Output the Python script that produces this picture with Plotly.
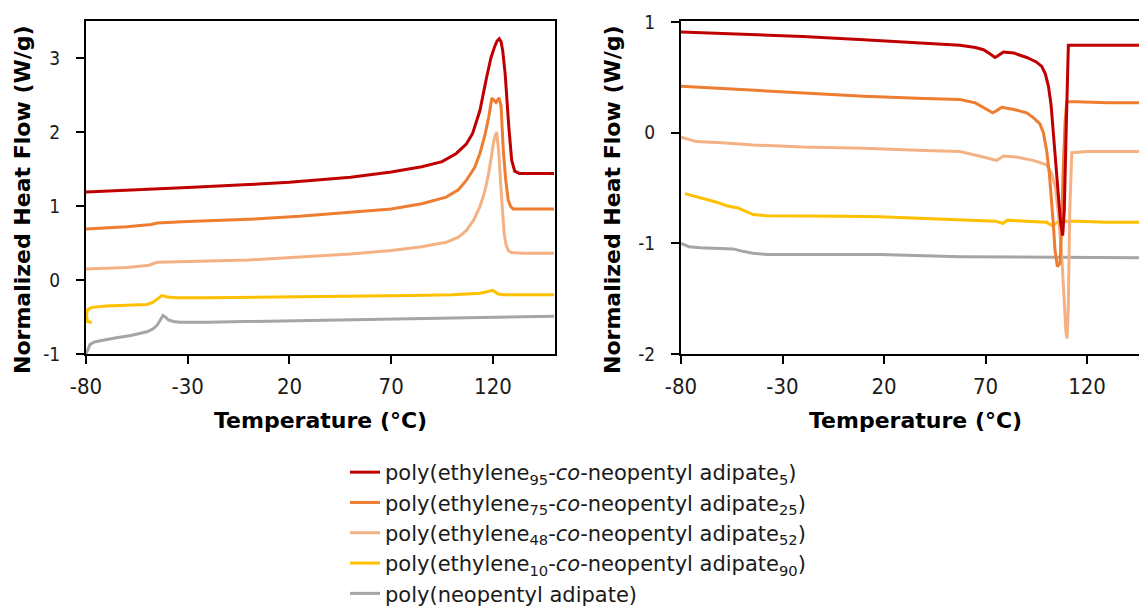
import plotly.graph_objects as go

# ---------------- data ----------------
series_names = [
    "poly(ethylene<sub>95</sub>-<i>co</i>-neopentyl adipate<sub>5</sub>)",
    "poly(ethylene<sub>75</sub>-<i>co</i>-neopentyl adipate<sub>25</sub>)",
    "poly(ethylene<sub>48</sub>-<i>co</i>-neopentyl adipate<sub>52</sub>)",
    "poly(ethylene<sub>10</sub>-<i>co</i>-neopentyl adipate<sub>90</sub>)",
    "poly(neopentyl adipate)",
]
series_colors = ["#C00000", "#ED7D31", "#F4B183", "#FFC000", "#A5A5A5"]

# Left panel (heating)
L_red_x = [-80, -50, -30, 0, 20, 50, 70, 85, 95, 102, 107, 110, 113.6, 116.9, 119, 120.8, 122, 123.1, 124, 124.8, 126, 127.8, 129.2, 130.7, 133, 150]
L_red_y = [1.19, 1.22, 1.25, 1.29, 1.32, 1.39, 1.46, 1.53, 1.60, 1.71, 1.84, 1.98, 2.29, 2.74, 3.0, 3.15, 3.23, 3.26, 3.22, 3.1, 2.79, 2.07, 1.62, 1.47, 1.44, 1.44]

L_orange_x = [-80, -60, -48, -45, -30, 0, 25, 50, 70, 85, 97, 103, 107, 111, 113.6, 116, 117.9, 119.5, 121.5, 123, 124, 125.1, 126.3, 127.5, 128.8, 130, 133, 150]
L_orange_y = [0.69, 0.72, 0.75, 0.77, 0.79, 0.82, 0.86, 0.91, 0.96, 1.03, 1.12, 1.22, 1.35, 1.52, 1.71, 1.95, 2.2, 2.46, 2.40, 2.46, 2.35, 1.75, 1.35, 1.08, 0.99, 0.96, 0.96, 0.96]

L_peach_x = [-80, -60, -49, -45, -30, 0, 25, 50, 70, 85, 97, 103, 107, 110.5, 113.6, 116, 117.9, 119.5, 120.5, 121.8, 122.8, 123.8, 124.6, 125.5, 126.5, 127.5, 129, 135, 150]
L_peach_y = [0.15, 0.17, 0.20, 0.24, 0.25, 0.27, 0.31, 0.35, 0.40, 0.45, 0.51, 0.58, 0.67, 0.81, 0.99, 1.2, 1.44, 1.7, 1.89, 2.0, 1.75, 1.30, 0.95, 0.63, 0.47, 0.40, 0.37, 0.36, 0.36]

L_yellow_x = [-77.2, -79.3, -79.8, -79.2, -77, -70, -60, -50, -47, -45, -42.7, -40, -36, -20, 0, 25, 50, 80, 100, 113.6, 117, 119.7, 121, 122.5, 125, 150]
L_yellow_y = [-0.575, -0.56, -0.47, -0.40, -0.37, -0.35, -0.34, -0.33, -0.30, -0.26, -0.21, -0.23, -0.24, -0.24, -0.235, -0.23, -0.22, -0.21, -0.20, -0.18, -0.16, -0.14, -0.16, -0.19, -0.20, -0.20]

L_gray_x = [-80, -79, -78, -76, -73, -65, -58, -50, -47, -45, -43.5, -42.2, -41, -39.5, -37, -33.8, -20, 0, 25, 50, 80, 110, 130, 150]
L_gray_y = [-1.0, -0.93, -0.87, -0.84, -0.82, -0.78, -0.75, -0.70, -0.66, -0.61, -0.53, -0.48, -0.50, -0.54, -0.56, -0.57, -0.57, -0.56, -0.55, -0.54, -0.53, -0.51, -0.50, -0.49]

# Right panel (cooling)
R_red_x = [-80, -50, -20, 10, 40, 57.4, 65, 69, 72.5, 74.7, 76.5, 78.8, 84, 90.3, 95, 97.7, 99.5, 101, 102.3, 103.4, 104.7, 105.9, 107, 108, 108.8, 109.7, 110.3, 110.8, 115, 130, 146]
R_red_y = [0.91, 0.89, 0.87, 0.84, 0.81, 0.79, 0.77, 0.75, 0.71, 0.68, 0.70, 0.73, 0.72, 0.68, 0.64, 0.60, 0.53, 0.42, 0.25, 0.0, -0.3, -0.61, -0.82, -0.93, -0.7, 0.0, 0.5, 0.79, 0.79, 0.79, 0.79]

R_orange_x = [-80, -50, -20, 10, 40, 57.4, 65, 68.9, 71.5, 73.5, 75.5, 78, 84, 90.3, 94, 96.8, 98.5, 100.1, 101.5, 102.6, 103.5, 104.2, 105.4, 106.7, 107.5, 108.3, 109.2, 110, 115, 130, 146]
R_orange_y = [0.42, 0.39, 0.36, 0.33, 0.31, 0.30, 0.27, 0.23, 0.20, 0.18, 0.20, 0.23, 0.21, 0.18, 0.13, 0.08, 0.0, -0.16, -0.38, -0.61, -0.85, -1.06, -1.21, -1.18, -0.85, -0.31, 0.1, 0.28, 0.28, 0.27, 0.27]

R_peach_x = [-80, -76, -72.3, -60, -44.5, -20, 10, 40, 57.4, 68.9, 73, 75.5, 78.8, 85, 93.4, 100.1, 102.6, 104.5, 106, 107.5, 108.7, 109.6, 110.2, 110.8, 111.5, 112.5, 120, 146]
R_peach_y = [-0.04, -0.06, -0.08, -0.09, -0.11, -0.13, -0.14, -0.16, -0.17, -0.22, -0.24, -0.25, -0.21, -0.22, -0.25, -0.29, -0.37, -0.5, -0.75, -1.1, -1.5, -1.8, -1.86, -1.55, -0.7, -0.18, -0.17, -0.17]

R_yellow_x = [-78, -70, -62, -57.5, -52, -49.5, -46, -44.5, -38, -30.6, 0, 18, 40, 60, 68.9, 75, 77, 78.5, 80, 81, 90, 100, 102, 103, 104.5, 106, 115, 130, 146]
R_yellow_y = [-0.55, -0.59, -0.63, -0.66, -0.68, -0.70, -0.73, -0.74, -0.75, -0.75, -0.755, -0.76, -0.775, -0.79, -0.80, -0.80, -0.81, -0.82, -0.80, -0.79, -0.80, -0.81, -0.83, -0.84, -0.82, -0.80, -0.80, -0.81, -0.81]

R_gray_x = [-80, -76, -70.6, -60, -54.4, -50, -44.5, -38, -20, 18, 57.4, 100, 146]
R_gray_y = [-1.00, -1.03, -1.04, -1.045, -1.05, -1.07, -1.09, -1.10, -1.10, -1.10, -1.12, -1.125, -1.13]

x_tick_vals = [-80, -30, 20, 70, 120]
x_tick_text = ["-80", "-30", "20", "70", "120"]
left_y_ticks = [-1, 0, 1, 2, 3]
left_y_text = ["-1", "0", "1", "2", "3"]
right_y_ticks = [-2, -1, 0, 1]
right_y_text = ["-2", "-1", "0", "1"]
x_title = "Temperature (°C)"
y_title = "Normalized Heat Flow (W/g)"

left_series = [(L_red_x, L_red_y), (L_orange_x, L_orange_y), (L_peach_x, L_peach_y),
               (L_yellow_x, L_yellow_y), (L_gray_x, L_gray_y)]
right_series = [(R_red_x, R_red_y), (R_orange_x, R_orange_y), (R_peach_x, R_peach_y),
                (R_yellow_x, R_yellow_y), (R_gray_x, R_gray_y)]

# ---------------- figure ----------------
W, H = 1139, 615
fig = go.Figure()

order = [4, 3, 2, 1, 0]
for i in order:
    x, y = left_series[i]
    fig.add_trace(go.Scatter(x=x, y=y, mode="lines", name=series_names[i],
                             line=dict(color=series_colors[i], width=3),
                             legendgroup=str(i), legendrank=i + 1,
                             showlegend=True, xaxis="x", yaxis="y"))
for i in order:
    x, y = right_series[i]
    fig.add_trace(go.Scatter(x=x, y=y, mode="lines", name=series_names[i],
                             line=dict(color=series_colors[i], width=3),
                             legendgroup=str(i), showlegend=False,
                             xaxis="x2", yaxis="y2"))

cond = "DejaVu Sans Condensed, DejaVu Sans"
x_tick_font = dict(family=cond, size=22, color="#1a1a1a")
y_tick_font = dict(family=cond, size=19, color="#1a1a1a")
axis_common = dict(showline=True, linecolor="#000000", linewidth=2, ticks="outside",
                   ticklen=8, tickwidth=1.5, tickcolor="#000000", showgrid=False,
                   zeroline=False, automargin=False)

fig.update_layout(
    template="none",
    width=W, height=H,
    margin=dict(l=0, r=0, t=0, b=0, pad=0),
    paper_bgcolor="white", plot_bgcolor="white",
    xaxis=dict(domain=[86 / W, 555 / W], range=[-80, 150.5], tickvals=x_tick_vals,
               ticktext=x_tick_text, mirror=True, anchor="y", ticklabelstandoff=4,
               tickfont=x_tick_font, **axis_common),
    yaxis=dict(domain=[1 - 354 / H, 1 - 21 / H], range=[-1, 3.5], tickvals=left_y_ticks,
               ticktext=left_y_text, mirror=True, anchor="x", ticklabelstandoff=12,
               tickfont=y_tick_font, **axis_common),
    xaxis2=dict(domain=[681 / W, 1.0], range=[-80, 145.6], tickvals=x_tick_vals,
                ticktext=x_tick_text, mirror=True, anchor="y2", ticklabelstandoff=4,
                tickfont=x_tick_font, **axis_common),
    yaxis2=dict(domain=[1 - 354 / H, 1 - 21 / H], range=[-2, 1.01], tickvals=right_y_ticks,
                ticktext=right_y_text, mirror=False, anchor="x2", ticklabelstandoff=12,
                tickfont=y_tick_font, **axis_common),
    legend=dict(x=345 / W, y=1 - 452 / H, xanchor="left", yanchor="top",
                font=dict(family="DejaVu Sans", size=21, color="#1a1a1a"),
                bgcolor="rgba(0,0,0,0)", traceorder="normal", itemwidth=30),
    showlegend=True,
)

title_font = dict(family="DejaVu Sans", size=22, color="#000000")
for xc in [22 / W, 612 / W]:
    fig.add_annotation(text="<b>" + y_title + "</b>", xref="paper", yref="paper",
                       x=xc, y=1 - 200 / H, textangle=-90, showarrow=False,
                       font=title_font, xanchor="center", yanchor="middle")
for xc in [320 / W, 915 / W]:
    fig.add_annotation(text="<b>" + x_title + "</b>", xref="paper", yref="paper",
                       x=xc, y=1 - 420 / H, showarrow=False,
                       font=title_font, xanchor="center", yanchor="middle")

fig.write_html("out.html", config={"displayModeBar": False},
               post_script="document.body.style.margin='0';document.body.style.overflow='hidden';")
